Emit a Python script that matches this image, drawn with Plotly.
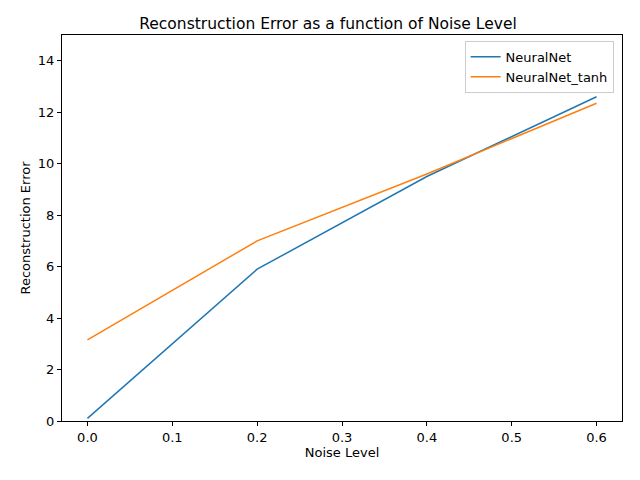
import plotly.graph_objects as go

noise = [0.0, 0.2, 0.4, 0.6]
nn = [0.1, 5.9, 9.5, 12.6]
nn_tanh = [3.15, 7.0, 9.6, 12.35]

fig = go.Figure()
fig.add_trace(go.Scatter(x=noise, y=nn, mode="lines", name="NeuralNet", line=dict(color="#1f77b4", width=1.5)))
fig.add_trace(go.Scatter(x=noise, y=nn_tanh, mode="lines", name="NeuralNet_tanh", line=dict(color="#ff7f0e", width=1.5)))

ax = dict(showgrid=False, zeroline=False, showline=True, mirror=True, linecolor="black", linewidth=1,
          ticks="outside", ticklen=4, tickcolor="black", tickfont=dict(size=13))
fig.update_layout(
    width=640, height=480, plot_bgcolor="white", paper_bgcolor="white",
    font=dict(family="DejaVu Sans", size=13, color="black"),
    margin=dict(l=54, r=26, t=27, b=67),
    title=dict(text="Reconstruction Error as a function of Noise Level", x=0.5, xanchor="center",
               yref="paper", y=1.0, yanchor="bottom", pad=dict(b=6), font=dict(size=15.5)),
    xaxis=dict(ax, range=[-0.03, 0.63], tickvals=[0, 0.1, 0.2, 0.3, 0.4, 0.5, 0.6], tickformat=".1f",
               title=dict(text="Noise Level", standoff=4, font=dict(size=13))),
    yaxis=dict(ax, range=[0, 15], tickvals=[0, 2, 4, 6, 8, 10, 12, 14],
               title=dict(text="Reconstruction Error", standoff=4, font=dict(size=13))),
    legend=dict(x=0.985, y=0.985, xanchor="right", yanchor="top", bordercolor="#cccccc", borderwidth=1,
                bgcolor="rgba(255,255,255,0.8)", font=dict(size=13)),
)
fig.write_html("out.html")
